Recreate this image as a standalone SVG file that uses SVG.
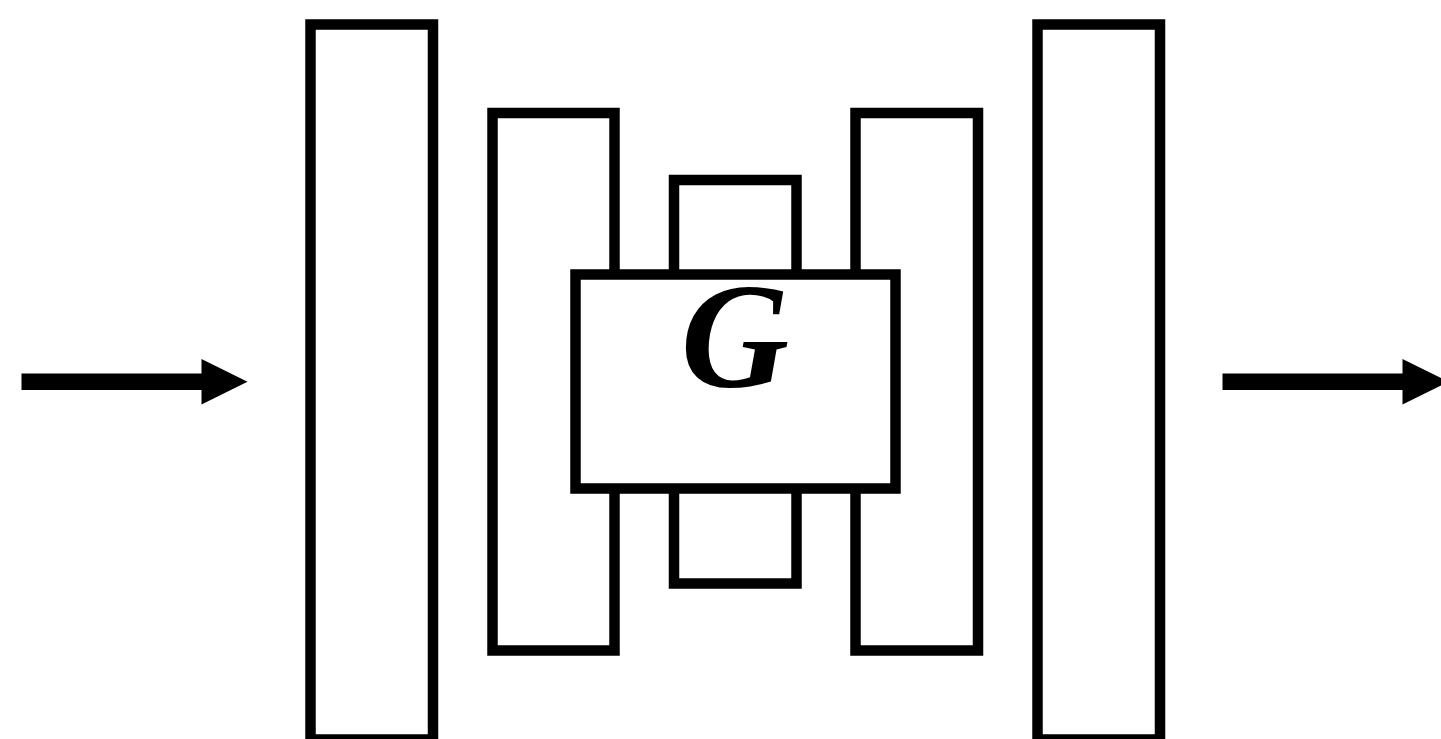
<svg xmlns="http://www.w3.org/2000/svg" width="1441" height="739" viewBox="0 0 1441 739">
<style>
.box{fill:#fff;stroke:#000;stroke-width:10.5}
.shaft{stroke:#000;stroke-width:16.5}
.head{fill:#000}
.lbl{font-family:"Liberation Serif",serif;font-weight:bold;font-style:italic;font-size:150px;fill:#000}
</style>
<rect width="1441" height="739" fill="#fff"/>
<g id="outer-left"><rect class="box" x="310.5" y="24.5" width="122.5" height="715"/></g>
<g id="outer-right"><rect class="box" x="1037.5" y="24.5" width="122.5" height="715"/></g>
<g id="mid-left"><rect class="box" x="492.5" y="113" width="122" height="537.5"/></g>
<g id="mid-right"><rect class="box" x="855.5" y="113" width="122.5" height="537.5"/></g>
<g id="inner"><rect class="box" x="674" y="180" width="122.5" height="403.5"/></g>
<g id="G"><rect class="box" x="575.5" y="274.5" width="320" height="214"/>
<text class="lbl" x="735" y="387" text-anchor="middle">G</text></g>
<g id="connectors">
<line class="shaft" x1="21.5" y1="381.7" x2="203" y2="381.7"/>
<polygon class="head" points="201.5,359 247.5,381.7 201.5,404.5"/>
<line class="shaft" x1="1222.5" y1="381.7" x2="1404" y2="381.7"/>
<polygon class="head" points="1402.5,359 1448.5,381.7 1402.5,404.5"/>
</g>
</svg>
